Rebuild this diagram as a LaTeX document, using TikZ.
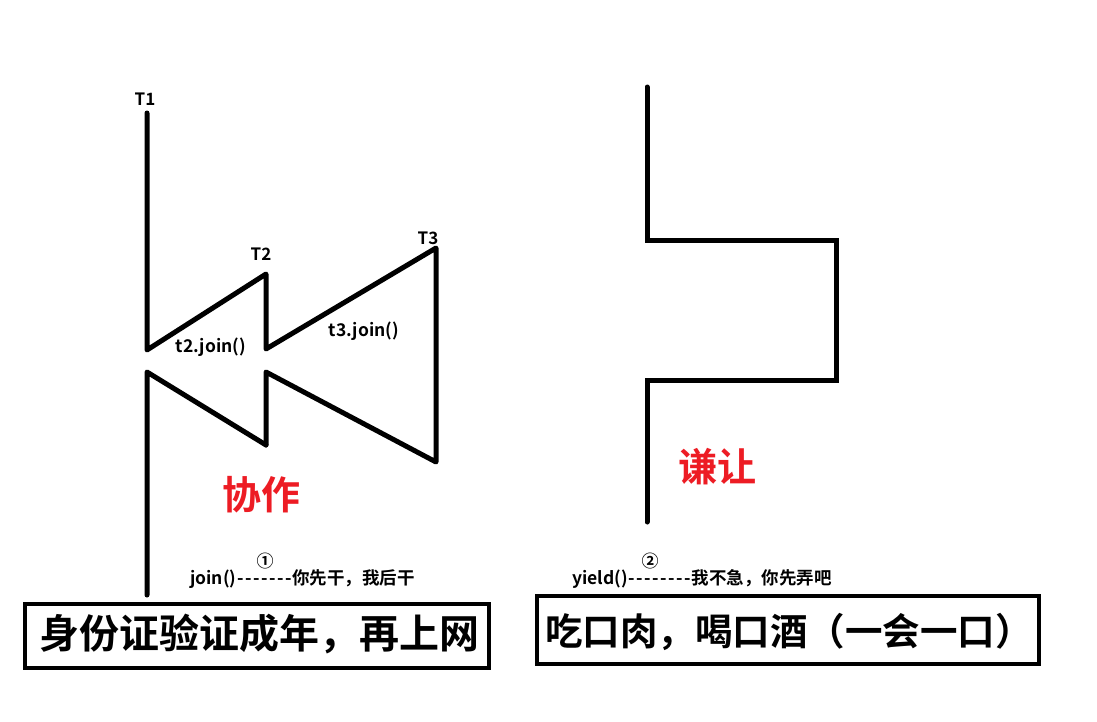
\documentclass[tikz,border=0pt]{standalone}
\usepackage{fontspec}
\setmainfont{Noto Sans CJK SC}[BoldFont={* Bold},Ligatures=TeXOff]
\definecolor{pred}{RGB}{237,28,36}
\newcommand\dsh{\makebox[8pt]{-}}
\tikzset{
  ln/.style={line width=5pt, line cap=round, line join=round},
  sq/.style={line width=5pt, line cap=round, line join=miter},
  tl/.style={font=\bfseries\fontsize{17}{17}\selectfont, inner sep=0pt},
  jl/.style={font=\bfseries\fontsize{17.5}{17.5}\selectfont, inner sep=0pt},
  sm/.style={font=\bfseries\fontsize{17.5}{17.5}\selectfont, inner sep=0pt, anchor=west},
  cn/.style={font=\bfseries\fontsize{17}{17}\selectfont, inner sep=0pt},
  big/.style={font=\bfseries\fontsize{39}{39}\selectfont, text=pred, inner sep=0pt},
  boxn/.style={draw, line width=4pt, inner sep=0pt}
}
\begin{document}
\begin{tikzpicture}[x=1pt,y=-1pt]
\fill[white] (0,0) rectangle (1097,721);
\useasboundingbox (0,0) rectangle (1097,721);
% left figure
\coordinate (a1) at (147,113);
\coordinate (a2) at (147,350);
\coordinate (a3) at (266,274);
\coordinate (a4) at (266,349);
\coordinate (a5) at (436,248);
\coordinate (a6) at (436,462);
\coordinate (a7) at (266,372);
\coordinate (a8) at (266,445);
\coordinate (b1) at (147,595);
\coordinate (b2) at (147,372);
\draw[ln] (a1) -- (a2) -- (a3) -- (a4) -- (a5) -- (a6) -- (a7) -- (a8);
\draw[ln] (b1) -- (b2) -- (a8);
\node[tl] (t1) at (145,99) {T1};
\node[tl] (t2) at (261,254) {T2};
\node[tl] (t3) at (428,238) {T3};
\node[jl] (j2) at (211,347) {t2.join()};
\node[jl] (j3) at (364,331) {t3.join()};
\node[big] (xz) at (261,495) {协作};
% right figure
\coordinate (c1) at (647,87);
\coordinate (c2) at (647,240);
\coordinate (c3) at (836,240);
\coordinate (c4) at (836,380);
\coordinate (c5) at (647,380);
\coordinate (c6) at (647,522);
\draw[sq] (c1) -- (c2) -- (c3) -- (c4) -- (c5) -- (c6);
\node[big] (qr) at (717,467) {谦让};
% captions
\node[sm] (s1) at (190,579) {join()\dsh\dsh\dsh\dsh\dsh\dsh\dsh 你先干，我后干};
\node[cn] (n1) at (265,561) {①};
\node[sm] (s2) at (572,579) {yield()\dsh\dsh\dsh\dsh\dsh\dsh\dsh\dsh 我不急，你先弄吧};
\node[cn] (n2) at (650,561) {②};
% boxes
\node[boxn, minimum width=464pt, minimum height=64pt] (bx1) at (257,636) {};
\node[font=\bfseries\fontsize{40}{40}\selectfont, inner sep=0pt] (tx1) at (259,634) {身份证验证成年，再上网};
\node[boxn, minimum width=502pt, minimum height=68pt] (bx2) at (788,630) {};
\node[font=\bfseries\fontsize{37.5}{37.5}\selectfont, inner sep=0pt] (tx2) at (789,632) {吃口肉，喝口酒（一会一口）};
\end{tikzpicture}
\end{document}
